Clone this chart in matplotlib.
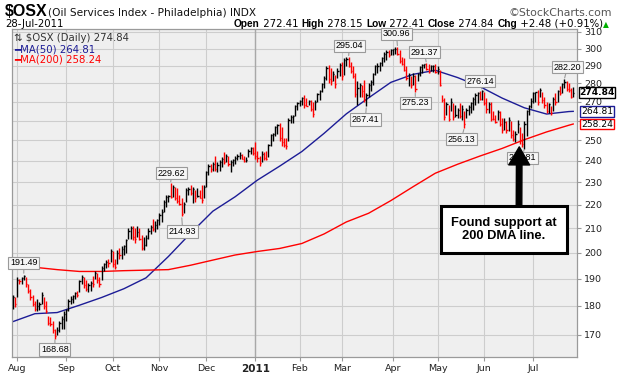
import numpy as np
import pandas as pd
import matplotlib
matplotlib.use("Agg")
import matplotlib.pyplot as plt
import matplotlib.transforms as mtransforms
from matplotlib.patches import Rectangle
from matplotlib.ticker import NullLocator, FixedLocator, FixedFormatter

# --- trading days shown on the chart ---
holidays = ["2010-09-06", "2010-11-25", "2010-12-24", "2011-01-17",
            "2011-02-21", "2011-04-22", "2011-05-30", "2011-07-04"]
dates = pd.bdate_range("2010-07-29", "2011-07-28")
dates = dates[~dates.isin(pd.to_datetime(holidays))]

# daily close / high / low (one row per month)
closes = [
    183.0, 180.5, 189.5, 189.0, 190.2, 190.8, 187.8, 185.5, 183.0, 180.5, 179.0, 180.0, 180.8, 184.0, 180.0, 178.0, 174.0, 173.5, 171.5, 169.5, 171.5, 174.0, 175.5, 177.0,
    178.5, 181.8, 182.5, 183.5, 184.5, 184.0, 189.0, 190.5, 187.5, 186.0, 187.5, 188.5, 188.0, 192.2, 189.5, 188.0, 194.0, 195.5, 196.5, 196.0, 200.5,
    195.5, 194.5, 200.0, 199.0, 201.5, 202.5, 205.0, 209.0, 210.0, 206.5, 205.5, 208.5, 205.5, 202.0, 203.0, 206.0, 209.0, 210.5, 209.5, 211.5, 213.5,
    215.5, 217.0, 221.0, 223.5, 224.0, 223.5, 228.0, 223.0, 221.5, 220.5, 216.0, 220.5, 226.5, 227.0, 225.0, 227.0, 223.0, 224.0, 223.0, 222.0, 228.0,
    235.0, 237.5, 236.0, 238.5, 236.0, 238.0, 239.5, 241.0, 239.5, 242.5, 238.5, 239.5, 240.5, 241.5, 242.5, 243.0, 241.0, 240.0, 240.5, 245.0, 246.0, 244.0,
    242.5, 241.5, 239.0, 243.5, 241.5, 241.0, 247.5, 252.5, 253.0, 256.5, 257.5, 251.0, 249.0, 247.5, 247.0, 260.5, 262.0, 262.5, 267.5, 269.0,
    270.5, 272.0, 268.0, 267.8, 270.5, 266.0, 263.5, 270.0, 274.0, 275.5, 279.5, 283.0, 288.5, 282.5, 281.0, 285.0, 279.5, 287.0, 290.5,
    284.0, 293.5, 294.0, 290.0, 287.0, 284.0, 274.0, 277.5, 279.0, 276.0, 271.0, 273.5, 279.0, 280.5, 285.0, 289.5, 290.0, 291.5, 294.5, 297.0, 298.0, 296.0, 299.0,
    299.5, 300.0, 297.0, 292.5, 291.0, 287.5, 283.0, 284.5, 279.0, 284.0, 277.0, 285.0, 289.0, 290.5, 291.0, 288.0, 286.5, 289.5, 290.0, 286.5,
    288.0, 279.0, 271.0, 262.0, 268.5, 261.0, 270.0, 262.0, 263.0, 265.5, 262.5, 266.0, 258.0, 265.5, 267.0, 269.0, 271.5, 273.5, 274.5, 271.5, 275.5,
    269.0, 266.0, 268.5, 261.0, 260.8, 259.5, 264.5, 258.5, 255.0, 259.5, 255.0, 260.5, 252.5, 250.5, 253.0, 258.0, 250.0, 248.0, 258.0, 265.0, 267.5, 270.5,
    274.5, 275.0, 270.0, 276.5, 271.0, 268.0, 265.0, 268.5, 264.0, 271.5, 270.0, 275.5, 274.5, 279.5, 280.5, 277.0, 276.5, 272.36, 274.84,
]
highs = [
    184.0, 183.0, 190.5, 190.0, 190.6, 191.49, 190.5, 188.0, 186.0, 184.0, 181.7, 182.6, 181.5, 185.0, 183.0, 181.7, 176.3, 176.0, 174.7, 172.0, 172.6, 174.7, 176.3, 178.0,
    179.0, 182.4, 183.5, 184.0, 185.0, 185.5, 189.5, 191.5, 190.5, 189.5, 188.5, 189.0, 191.0, 192.8, 192.0, 190.5, 194.7, 196.0, 197.0, 197.5, 201.4,
    200.5, 197.4, 201.0, 202.0, 202.6, 203.0, 205.4, 210.0, 211.0, 211.0, 210.0, 211.0, 210.0, 207.0, 206.5, 207.0, 210.0, 211.5, 214.0, 213.0, 214.0,
    216.3, 218.0, 221.9, 224.3, 224.3, 229.62, 229.0, 228.0, 227.3, 224.3, 222.8, 221.3, 227.3, 228.0, 228.8, 228.0, 226.5, 227.3, 226.5, 228.8, 228.8,
    235.4, 238.6, 238.6, 239.4, 242.5, 239.4, 240.2, 241.7, 244.1, 243.3, 242.5, 240.2, 241.0, 242.5, 243.3, 244.1, 243.3, 242.5, 241.7, 245.8, 246.6, 246.5,
    249.0, 244.9, 242.5, 244.9, 244.1, 244.9, 248.2, 253.1, 253.9, 257.3, 258.2, 259.0, 256.5, 251.4, 251.4, 261.3, 263.0, 262.9, 268.3, 270.0,
    270.9, 272.7, 273.6, 271.8, 270.9, 270.9, 270.0, 270.9, 274.5, 276.3, 280.1, 283.8, 289.5, 290.5, 288.6, 286.7, 284.8, 288.6, 291.4,
    292.3, 294.2, 295.0, 295.04, 292.3, 289.5, 285.8, 281.1, 280.1, 279.2, 281.9, 274.5, 280.1, 281.9, 285.8, 290.5, 291.4, 292.3, 295.0, 298.0, 298.9, 298.9, 300.0,
    300.0, 300.9, 300.96, 298.9, 295.0, 294.2, 289.5, 285.8, 283.8, 285.8, 284.8, 285.8, 289.5, 291.0, 291.2, 291.37, 291.0, 290.5, 290.5, 291.0,
    290.0, 287.6, 273.6, 271.8, 270.0, 268.3, 271.8, 269.2, 268.3, 266.5, 269.2, 268.3, 264.8, 266.5, 268.3, 270.0, 272.7, 274.5, 275.4, 276.0, 276.14,
    275.4, 271.8, 270.0, 270.0, 264.8, 263.0, 265.6, 264.8, 261.3, 261.3, 259.6, 262.1, 259.6, 255.3, 254.5, 260.4, 256.5, 253.9, 259.6, 265.6, 268.3, 271.8,
    275.4, 275.4, 276.3, 277.3, 275.4, 272.7, 270.0, 269.2, 267.4, 272.7, 274.5, 276.3, 278.3, 280.1, 282.20, 281.5, 280.1, 277.3, 278.15,
]
lows = [
    179.0, 179.6, 183.0, 187.8, 188.0, 189.5, 187.0, 184.8, 182.0, 180.0, 178.2, 178.2, 178.6, 180.5, 179.0, 177.5, 173.2, 173.0, 170.6, 168.68, 170.0, 171.0, 172.0, 172.0,
    174.5, 178.0, 180.5, 181.0, 182.5, 183.0, 185.0, 188.0, 186.5, 185.5, 185.0, 185.5, 187.0, 189.8, 188.5, 187.0, 189.5, 193.0, 194.0, 194.5, 196.3,
    194.5, 193.6, 195.5, 197.5, 197.4, 199.0, 200.0, 205.5, 205.5, 205.0, 204.0, 206.5, 205.0, 201.0, 201.0, 202.5, 205.5, 207.5, 209.0, 208.5, 209.5,
    211.3, 212.4, 216.7, 219.2, 221.3, 222.8, 223.5, 222.0, 220.6, 219.9, 214.93, 216.5, 221.3, 224.3, 224.3, 220.6, 221.3, 223.5, 222.8, 220.6, 222.8,
    228.0, 233.2, 234.8, 235.4, 235.4, 234.8, 235.4, 237.0, 238.6, 239.4, 237.8, 234.8, 237.8, 238.6, 240.2, 241.0, 240.9, 239.4, 239.5, 241.7, 243.3, 243.0,
    241.0, 239.4, 237.8, 239.4, 240.2, 240.2, 241.7, 247.4, 249.8, 252.3, 253.1, 249.8, 247.4, 246.6, 245.8, 249.8, 258.9, 258.9, 262.5, 265.6,
    267.4, 268.3, 266.5, 267.4, 268.3, 264.8, 262.1, 265.6, 270.0, 270.9, 275.4, 277.3, 281.9, 280.1, 279.2, 281.1, 277.3, 283.0, 283.8,
    282.0, 284.5, 289.5, 289.0, 286.0, 283.0, 272.5, 268.3, 272.7, 272.5, 270.0, 267.41, 272.5, 275.8, 279.2, 284.8, 285.8, 286.7, 289.5, 292.3, 293.2, 295.0, 295.9,
    296.0, 297.0, 296.0, 291.4, 290.5, 286.7, 281.9, 278.3, 277.3, 279.2, 275.23, 281.0, 283.8, 285.8, 288.6, 287.6, 285.8, 286.7, 286.5, 285.5,
    285.0, 278.3, 270.0, 260.4, 263.0, 259.6, 264.8, 260.4, 262.1, 261.3, 261.3, 260.4, 256.13, 261.3, 263.0, 263.9, 265.6, 268.3, 269.2, 270.9, 270.9,
    268.3, 263.9, 263.9, 259.6, 260.4, 258.9, 260.4, 257.3, 253.9, 255.3, 253.9, 254.5, 251.4, 249.8, 249.0, 253.9, 248.2, 246.6, 245.81, 252.0, 263.0, 266.5,
    269.2, 270.0, 268.3, 272.7, 269.2, 266.5, 263.9, 263.9, 263.0, 264.8, 268.3, 270.0, 273.6, 274.5, 277.3, 276.0, 275.4, 271.8, 272.41,
]

# moving averages read every 10 trading days (last point = last bar)
ma_step = 10
ma50 = [174.4, 177.2, 177.6, 180.2, 183.0, 186.2, 190.3, 198.5, 207.9, 217.2, 223.5, 231.0, 237.5,
        244.5, 253.5, 263.5, 272.0, 280.5, 285.0, 287.3, 283.2, 278.2, 271.9, 266.7, 263.4, 264.7, 264.81]
ma200 = [194.7, 194.3, 193.4, 192.7, 192.7, 193.0, 193.2, 193.4, 195.1, 197.1, 199.1, 200.5, 201.7,
         203.7, 207.6, 212.6, 216.3, 221.8, 228.0, 234.2, 238.4, 242.3, 246.0, 250.3, 254.2, 257.6, 258.24]

# peak / trough tags: value, which end of the bar, offset of the tag (px)
tag_values = [191.49, 168.68, 229.62, 214.93, 295.04, 267.41, 300.96, 291.37, 275.23, 256.13, 276.14, 245.81, 282.20]
tag_kinds = ["high", "low", "high", "low", "high", "low", "high", "high", "low", "low", "high", "low", "high"]
tag_offsets = [(0, 12), (0, -11), (1, 10), (1, -15), (1, 11), (-1, -13), (-1, 13), (-2, 11),
               (0, -11), (-3, -11), (-2, 9), (-2, -9), (3, 12)]

W, H = 618, 378
fig = plt.figure(figsize=(W / 100, H / 100), dpi=100)
fig.patch.set_facecolor("white")
L, R, T, B = 12, 577, 29, 357
ax = fig.add_axes([L / W, 1 - B / H, (R - L) / W, (B - T) / H])
ax.set_facecolor("#efefef")

n = len(closes)
x = np.arange(n)
c = np.array(closes)
hi = np.array(highs)
lo = np.array(lows)
prev = np.r_[c[0] - 1, c[:-1]]
cols = np.where(c >= prev, "#000000", "#ff0000")

ax.set_yscale("log")
ax.set_ylim(162.6, 311.85)
ax.set_xlim(-0.3, 253.7)

ax.vlines(x, lo, hi, colors=cols, lw=1.0, zorder=3)
ax.hlines(c, x, x + 0.55, colors=cols, lw=1.0, zorder=3)

ma_x = list(range(0, n - 2, ma_step)) + [n - 1]
ax.plot(ma_x, ma50, color="#1c1c96", lw=1.0, zorder=2)
ax.plot(ma_x, ma200, color="#ff0000", lw=1.0, zorder=2)

# grid / axes ("260" sits under the MA(200) tag, as on the original)
yt = list(range(170, 311, 10))
ax.yaxis.set_major_locator(FixedLocator(yt))
ax.yaxis.set_major_formatter(FixedFormatter(["" if v == 260 else str(v) for v in yt]))
ax.yaxis.set_minor_locator(NullLocator())
ax.yaxis.tick_right()
# first trading day of each full month (the partial July 2010 is skipped)
month_first = pd.Series(np.arange(n), index=dates).groupby(dates.to_period("M")).first().iloc[1:]
mx = month_first.values
mlab = [d.strftime("%b") for d in month_first.index.to_timestamp()]
mlab = ["2011" if lab == "Jan" else lab for lab in mlab]
ax.set_xticks(mx)
ax.set_xticklabels(mlab)
ax.grid(True, color="#cdcdcd", lw=0.8, zorder=0)
ax.set_axisbelow(True)
jan = mx[mlab.index("2011")]
ax.axvline(jan, color="#a8a8a8", lw=1.0, zorder=1)
for s in ax.spines.values():
    s.set_color("#9a9a9a")
    s.set_linewidth(0.9)
ax.tick_params(axis="both", length=3, width=0.8, color="#9a9a9a", labelsize=7,
               labelcolor="#222222", pad=2)
for lab in ax.get_yticklabels() + ax.get_xticklabels():
    lab.set_family("DejaVu Sans")
    lab.set_fontsize(6.8)
for lab in ax.get_xticklabels():
    if lab.get_text() == "2011":
        lab.set_fontweight("bold")
        lab.set_fontsize(7.5)

# peak / trough tags
for v, kind, (dx, dy) in zip(tag_values, tag_kinds, tag_offsets):
    arr = hi if kind == "high" else lo
    i = int(np.argmin(np.abs(arr - v)))
    ax.annotate(f"{v:.2f}", xy=(i, v), xytext=(dx, dy), textcoords="offset pixels",
                ha="center", va="center", fontsize=6.5, family="Liberation Sans", zorder=6,
                bbox=dict(boxstyle="square,pad=0.18", fc="#f6f6f6", ec="#9a9a9a", lw=0.8),
                arrowprops=dict(arrowstyle="-", color="#9a9a9a", lw=0.8, shrinkA=0, shrinkB=1))

# right-side value tags
for v, ec, bold in [(closes[-1], "#000000", True), (ma50[-1], "#1c1c96", False), (ma200[-1], "#ff0000", False)]:
    ax.annotate(f"{v:.2f}", xy=(1.0, v), xycoords=("axes fraction", "data"),
                xytext=(20, 0), textcoords="offset pixels", ha="center", va="center",
                fontsize=6.6, family="DejaVu Sans", fontweight="bold" if bold else "normal",
                annotation_clip=False, zorder=8,
                bbox=dict(boxstyle="square,pad=0.08", fc="white", ec=ec, lw=1.0))

# legend text inside the plot
def axpt(px, py):
    return (px - L) / (R - L), (B - py) / (B - T)

ax.text(*axpt(14, 38), "\u21c5 $OSX (Daily) 274.84", transform=ax.transAxes, fontsize=7.3,
        family="DejaVu Sans", color="#333333", va="center", ha="left")
ax.text(*axpt(14, 49), "\u2501MA(50) 264.81", transform=ax.transAxes, fontsize=7.3,
        family="DejaVu Sans", color="#1c1c96", va="center", ha="left")
ax.text(*axpt(14, 60), "\u2501MA(200) 258.24", transform=ax.transAxes, fontsize=7.3,
        family="DejaVu Sans", color="#ff0000", va="center", ha="left")

# comment box and arrow
ax.add_patch(Rectangle(axpt(441, 253), 126 / (R - L), 47 / (B - T), transform=ax.transAxes,
                       fc="white", ec="black", lw=2.2, zorder=9, clip_on=False))
ax.text(*axpt(504, 229.5), "Found support at\n200 DMA line.", transform=ax.transAxes,
        ha="center", va="center", fontsize=9.3, fontweight="bold", family="Liberation Sans",
        linespacing=1.15, zorder=10)
i_sup = int(np.argmin(np.abs(lo - 245.81)))
tip = mtransforms.offset_copy(ax.transData, fig=fig, x=-5, y=2, units="dots")
ax.annotate("", xy=(i_sup, lows[i_sup]), xycoords=tip,
            xytext=axpt(519, 207), textcoords="axes fraction",
            arrowprops=dict(arrowstyle="simple,head_length=1.3,head_width=1.5,tail_width=0.4",
                            fc="black", ec="black", shrinkA=0, shrinkB=0), zorder=11)

# header
def fy(py):
    return 1 - py / H

fig.text(5 / W, fy(16), "$OSX", fontsize=11.5, fontweight="bold", family="Liberation Sans")
fig.text(48 / W, fy(16), "(Oil Services Index - Philadelphia) INDX", fontsize=7.6,
         family="DejaVu Sans", color="#111111")
fig.text(612 / W, fy(16), "\u00a9StockCharts.com", fontsize=7.8, family="DejaVu Sans",
         color="#555555", ha="right")
fig.text(5 / W, fy(27), "28-Jul-2011", fontsize=7.3, family="DejaVu Sans")

pieces = [("Open", True), (" 272.41 ", False), ("High", True), (" 278.15 ", False),
          ("Low", True), (" 272.41 ", False), ("Close", True), (" 274.84 ", False),
          ("Chg", True), (" +2.48 (+0.91%)", False)]
rend = fig.canvas.get_renderer()
xr = 603
fig.text(xr / W, fy(27), "\u25b2", fontsize=5.5, color="#00b000", ha="left", family="DejaVu Sans")
for s, bold in reversed(pieces):
    t = fig.text(xr / W, fy(27), s, fontsize=7.3, ha="right",
                 fontweight="bold" if bold else "normal",
                 family="Liberation Sans" if bold else "DejaVu Sans")
    xr -= t.get_window_extent(renderer=rend).width

fig.savefig("out.png", dpi=100)
